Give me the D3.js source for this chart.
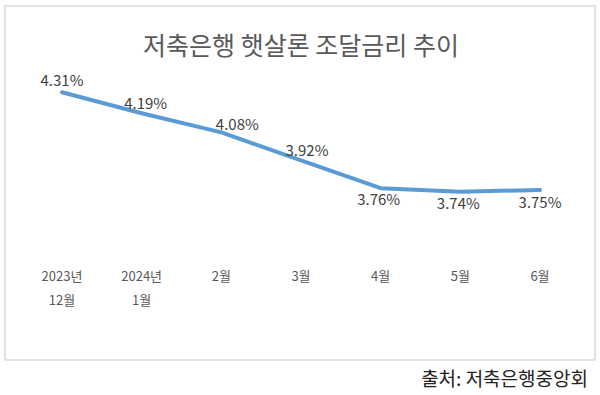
<!DOCTYPE html>
<html><head><meta charset="utf-8">
<script src="https://cdn.jsdelivr.net/npm/d3@7"></script>
<style>body{margin:0;background:#fff;} svg{display:block;}</style>
</head><body>
<svg id="chart" width="600" height="395"></svg>
<script>
const title = "저축은행 햇살론 조달금리 추이";
const source = "출처: 저축은행중앙회";
const categories = [["2023년","12월"],["2024년","1월"],["2월"],["3월"],["4월"],["5월"],["6월"]];
const rates = [4.31, 4.19, 4.08, 3.92, 3.76, 3.74, 3.75];
const labelPlacement = ["above","above","above","above","below","below","below"];

const font = "'Noto Sans CJK KR','Noto Sans',sans-serif";
const svg = d3.select("#chart");

svg.append("rect").attr("x",5).attr("y",6).attr("width",590).attr("height",354)
  .attr("fill","#fff").attr("stroke","#d9d9d9").attr("stroke-width",1.5);

svg.append("text").attr("x",301).attr("y",55).attr("text-anchor","middle")
  .attr("font-family",font).attr("font-size",25).attr("fill","#595959").text(title);

const x = d3.scalePoint().domain(d3.range(categories.length)).range([62,540]);
const y = d3.scaleLinear().domain([3.4,4.4]).range([251,76.6]);

const line = d3.line().x((d,i)=>x(i)).y(d=>y(d));
svg.append("path").datum(rates).attr("d",line).attr("fill","none")
  .attr("stroke","#5b9bd5").attr("stroke-width",4).attr("stroke-linecap","round").attr("stroke-linejoin","round");

const dxs = [0,4,16,6,-2,-2,0];
const dys = [-6,-4,-2,-4,17,17,18];
svg.append("g").selectAll("text").data(rates).join("text")
  .attr("x",(d,i)=>x(i)+dxs[i]).attr("y",(d,i)=>y(d)+dys[i])
  .attr("text-anchor","middle").attr("font-family",font).attr("font-size",15)
  .attr("fill","#404040").text(d=>d.toFixed(2)+"%");

const xAxis = svg.append("g");
categories.forEach((c,i)=>{
  c.forEach((t,j)=>{
    xAxis.append("text").attr("x",x(i)).attr("y",281+j*24).attr("text-anchor","middle")
      .attr("font-family",font).attr("font-size",13).attr("fill","#595959").text(t);
  });
});

svg.append("text").attr("x",588).attr("y",386).attr("text-anchor","end")
  .attr("font-family",font).attr("font-size",19).attr("fill","#222").text(source);
</script>
</body></html>
